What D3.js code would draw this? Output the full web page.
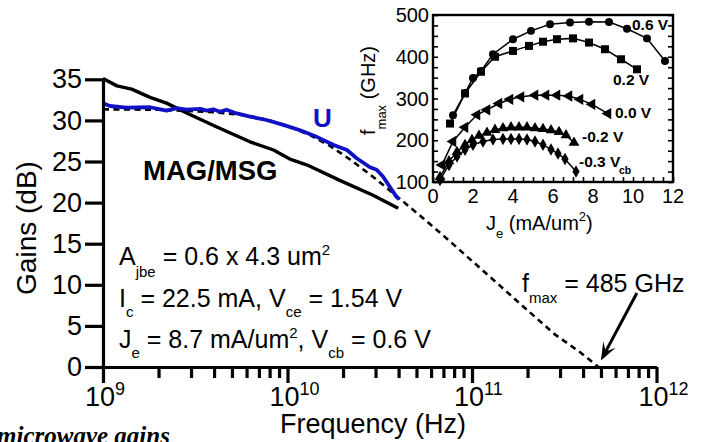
<!DOCTYPE html>
<html><head><meta charset="utf-8">
<script src="https://cdn.jsdelivr.net/npm/d3@7"></script>
<style>
body{margin:0;background:#fff;}
svg{display:block;font-family:"Liberation Sans",Arial,sans-serif;}
</style></head><body>
<svg id="chart" width="707" height="442"></svg>
<script>
// ---------- main chart data (frequency in GHz, gain in dB) ----------
const magFreq = [1.0,1.19,1.43,1.80,2.21,2.84,4.14,6.26,8.40,10.3,12.7,19.2,29.1,39.8];
const magGain = [35.1,34.2,33.8,32.8,32.1,30.9,29.2,27.4,26.4,25.3,24.6,22.7,20.9,19.3];
const uFreq = [1.0,1.09,1.34,1.80,2.21,2.51,2.84,3.36,3.65,3.96,4.30,4.67,5.31,6.26,7.70,9.49,11.7,14.4,17.8,21.0,23.7,28.0,30.4,33.0,35.9,39.0,40.3];
const uGain = [32.1,31.75,31.55,31.6,31.2,31.5,31.3,31.4,31.2,31.35,31.05,31.3,30.85,30.45,30.05,29.45,28.8,28.0,27.0,26.4,25.4,24.3,24.0,23.15,21.9,20.7,20.4];
const fitFreq = [1,2,4,6,8,10,13,17,22,30,40,55,75,100,140,200,280,380,485];
const fitGain = [31.35,31.3,31.0,30.6,30.0,29.3,28.3,26.9,25.2,22.9,20.6,18.0,15.4,12.9,10.0,6.9,4.0,1.9,0];
const yTicks = [0,5,10,15,20,25,30,35];
const xDecades = [1e9,1e10,1e11,1e12];
const xDecadeExp = ["9","10","11","12"];
// arrow annotation: tail and tip in data units (GHz, dB)
const arrowTail = [783, 9.0];
const arrowTip = [500, 0.8];

// ---------- inset data (Je in mA/um^2, fmax in GHz) ----------
const je06 = [1.0,1.6,2.0,2.4,3.0,4.0,4.9,5.85,6.85,7.8,8.8,9.7,10.7,11.6];
const fm06 = [260,313,349,366,406,442,462,478,482,484,483,467,444,390];
const je02 = [0.85,1.6,2.4,3.1,4.0,4.8,5.5,6.2,7.0,7.8,8.6,9.4,10.2];
const fm02 = [240,312,364,400,414,426,436,442,444,434,418,394,370];
const je00 = [0.45,1.0,1.6,2.2,2.7,3.3,3.85,4.4,5.1,5.65,6.2,6.8,7.35,7.95,8.75];
const fm00 = [141,197,231,261,273,288,298,304,308,308,308,306,298,286,264];
const jeM02 = [0.35,0.8,1.2,1.6,1.95,2.3,2.7,3.1,3.5,3.9,4.3,4.7,5.1,5.5,5.9,6.3,6.65,7.05];
const fmM02 = [112,150,172,189,201,211,218,225,229,231,231,231,229,227,224,220,212,194];
const jeM03 = [0.35,0.8,1.2,1.6,2.0,2.5,3.0,3.5,3.9,4.3,4.7,5.1,5.5,5.9,6.25,6.6,7.15];
const fmM03 = [105,141,161,177,189,197,202,203,203,203,202,197,189,178,168,155,125];
const insetXTicks = [0,2,4,6,8,10,12];
const insetYTicks = [100,200,300,400,500];

const FONT = '"Liberation Sans", Arial, sans-serif';
const BLUE = "#1010c4";
const svg = d3.select("#chart");

// ---------- main scales ----------
const x = d3.scaleLog().domain([1e9,1e12]).range([103,656.5]);
const y = d3.scaleLinear().domain([0,35]).range([367,79.3]);

const zip = (fs, gs) => fs.map((f,i)=>({f:f*1e9, g:gs[i]}));
const line = d3.line().x(d=>x(d.f)).y(d=>y(d.g));

// dashed fit line
svg.append("path").datum(zip(fitFreq,fitGain))
  .attr("d",line).attr("fill","none").attr("stroke","#000")
  .attr("stroke-width",2.6).attr("stroke-dasharray","6,4.5");
// MAG/MSG
svg.append("path").datum(zip(magFreq,magGain))
  .attr("d",line).attr("fill","none").attr("stroke","#000")
  .attr("stroke-width",3.4).attr("stroke-linejoin","round");
// U
svg.append("path").datum(zip(uFreq,uGain))
  .attr("d",line).attr("fill","none").attr("stroke",BLUE)
  .attr("stroke-width",3.8).attr("stroke-linejoin","round");

// ---------- axes ----------
const yAxis = d3.axisLeft(y).tickValues(yTicks).tickSize(18).tickSizeOuter(0).tickPadding(3);
const gy = svg.append("g").attr("transform","translate(103,0)").call(yAxis);
gy.attr("font-size",null).attr("font-family",null);
gy.select(".domain").attr("stroke-width",3.2);
gy.selectAll(".tick line").attr("stroke-width",3.2);
gy.selectAll(".tick text").attr("font-size",27).attr("font-family",FONT).attr("fill","#000");

const xMinor = [];
for (let e=9;e<12;e++) for (let m=1;m<10;m++) xMinor.push(m*Math.pow(10,e));
xMinor.push(1e12);
const xAxis = d3.axisBottom(x).tickValues(xMinor).tickSize(11).tickSizeOuter(0).tickFormat("");
const gx = svg.append("g").attr("transform","translate(0,367)").call(xAxis);
gx.select(".domain").attr("stroke-width",3.2);
gx.selectAll(".tick line").attr("stroke-width",3.2)
  .attr("y2", d => xDecades.some(v=>Math.abs(v-d)/v<1e-6) ? 16 : 11);

const xl = svg.append("g").selectAll("text").data(xDecades).join("text")
  .attr("x", d=>x(d)-18).attr("y",406).attr("font-family",FONT).attr("font-size",27);
xl.append("tspan").text("10");
xl.append("tspan").attr("font-size",18).attr("dy",-11).text((d,i)=>xDecadeExp[i]);

// axis titles
svg.append("text").attr("transform","translate(36,228) rotate(-90)")
  .attr("text-anchor","middle").attr("font-family",FONT).attr("font-size",28).text("Gains (dB)");
svg.append("text").attr("x",373).attr("y",433)
  .attr("text-anchor","middle").attr("font-family",FONT).attr("font-size",27).text("Frequency (Hz)");

// caption fragment (cut at the bottom edge, as in the source)
svg.append("text").attr("x",-3).attr("y",444)
  .attr("font-family",'"Liberation Serif", "Times New Roman", serif')
  .attr("font-weight","bold").attr("font-style","italic").attr("font-size",25)
  .text("microwave gains");

// labels
svg.append("text").attr("x",143).attr("y",180).attr("font-family",FONT)
  .attr("font-weight","bold").attr("font-size",27.5).text("MAG/MSG");
svg.append("text").attr("x",313).attr("y",127).attr("font-family",FONT)
  .attr("font-weight","bold").attr("font-size",26).attr("fill",BLUE).text("U");

// annotation lines with sub/superscripts
function rich(xp, yp, parts, size){
  const t = svg.append("text").attr("x",xp).attr("y",yp).attr("font-family",FONT).attr("font-size",size);
  parts.forEach(p=>{
    const s = t.append("tspan").text(p.t);
    if (p.small) s.attr("font-size",size*0.6);
    if (p.dy) s.attr("dy",p.dy);
  });
  return t;
}
rich(119,265,[{t:"A"},{t:"jbe",small:1,dy:12},{t:" = 0.6 x 4.3 um",dy:-12},{t:"2",small:1,dy:-10}],25);
rich(119,307,[{t:"I"},{t:"c",small:1,dy:10},{t:" = 22.5 mA, V",dy:-10},{t:"ce",small:1,dy:10},{t:" = 1.54 V",dy:-10}],25);
rich(119,348,[{t:"J"},{t:"e",small:1,dy:10},{t:" = 8.7 mA/um",dy:-10},{t:"2",small:1,dy:-10},{t:", V",dy:10},{t:"cb",small:1,dy:10},{t:" = 0.6 V",dy:-10}],25);
rich(522,292,[{t:"f"},{t:"max",small:1,dy:11},{t:" = 485 GHz",dy:-11}],25);

// arrow
{
  const x1=x(arrowTail[0]*1e9), y1=y(arrowTail[1]), x2=x(arrowTip[0]*1e9), y2=y(arrowTip[1]);
  const dx=x2-x1, dy=y2-y1, L=Math.hypot(dx,dy), ux=dx/L, uy=dy/L, px=-uy, py=ux;
  const hl=18, hw=7, notch=8;
  svg.append("line").attr("x1",x1).attr("y1",y1).attr("x2",x2-ux*notch).attr("y2",y2-uy*notch)
    .attr("stroke","#000").attr("stroke-width",3);
  const bx=x2-ux*hl, by=y2-uy*hl;
  svg.append("path").attr("d",`M${x2},${y2}L${bx+px*hw},${by+py*hw}L${x2-ux*(hl-notch)},${y2-uy*(hl-notch)}L${bx-px*hw},${by-py*hw}Z`)
    .attr("fill","#000");
}

// ---------- inset ----------
const xi = d3.scaleLinear().domain([0,12]).range([433,673]);
const yi = d3.scaleLinear().domain([100,500]).range([182,15]);
const inset = svg.append("g");
inset.append("rect").attr("x",433).attr("y",15).attr("width",240).attr("height",167)
  .attr("fill","#fff").attr("stroke","none");

const yMinorIn = d3.range(100,501,25);
const xMinorIn = d3.range(0,12.01,0.5);
const styleAx = g => { g.select(".domain").remove(); g.selectAll(".tick line").attr("stroke-width",1.6); };
inset.append("g").attr("transform","translate(433,0)")
  .call(d3.axisLeft(yi).tickValues(yMinorIn).tickSize(-5).tickFormat("")).call(styleAx);
inset.append("g").attr("transform","translate(673,0)")
  .call(d3.axisRight(yi).tickValues(yMinorIn).tickSize(-5).tickFormat("")).call(styleAx);
inset.append("g").attr("transform","translate(0,182)")
  .call(d3.axisBottom(xi).tickValues(xMinorIn).tickSize(-5).tickFormat("")).call(styleAx);
inset.append("rect").attr("x",433).attr("y",15).attr("width",240).attr("height",167)
  .attr("fill","none").attr("stroke","#000").attr("stroke-width",2.4);

inset.append("g").selectAll("text").data(insetYTicks).join("text")
  .attr("x",429).attr("y",d=>yi(d)+7).attr("text-anchor","end")
  .attr("font-family",FONT).attr("font-size",20).text(d=>d);
inset.append("g").selectAll("text").data(insetXTicks).join("text")
  .attr("x",d=>xi(d)).attr("y",203).attr("text-anchor","middle")
  .attr("font-family",FONT).attr("font-size",20).text(d=>d);

// inset axis titles
{
  const t = inset.append("text").attr("x",486).attr("y",230).attr("font-family",FONT).attr("font-size",20);
  t.append("tspan").text("J");
  t.append("tspan").attr("font-size",13).attr("dy",8).text("e");
  t.append("tspan").attr("dy",-8).text(" (mA/um");
  t.append("tspan").attr("font-size",13).attr("dy",-9).text("2");
  t.append("tspan").attr("dy",9).text(")");
  const t2 = inset.append("text").attr("transform","translate(375,135) rotate(-90)")
    .attr("font-family",FONT).attr("font-size",20);
  t2.append("tspan").text("f");
  t2.append("tspan").attr("font-size",13).attr("dy",11).text("max");
  t2.append("tspan").attr("dy",-11).text(" (GHz)");
}

const series = [
  {je:je06, fm:fm06, sym:d3.symbolCircle, size:50, rot:0},
  {je:je02, fm:fm02, sym:d3.symbolSquare, size:64, rot:0},
  {je:je00, fm:fm00, sym:d3.symbolTriangle, size:55, rot:30},
  {je:jeM02, fm:fmM02, sym:d3.symbolTriangle, size:50, rot:0},
  {je:jeM03, fm:fmM03, sym:d3.symbolDiamond, size:45, rot:0}
];
const lineIn = d3.line().x(d=>xi(d[0])).y(d=>yi(d[1]));
series.forEach(s=>{
  const pts = s.je.map((v,i)=>[v,s.fm[i]]);
  inset.append("path").datum(pts).attr("d",lineIn).attr("fill","none")
    .attr("stroke","#000").attr("stroke-width",1.5);
  inset.append("g").selectAll("path").data(pts).join("path")
    .attr("transform",d=>`translate(${xi(d[0])},${yi(d[1])}) rotate(${s.rot})`)
    .attr("d",d3.symbol(s.sym,s.size)).attr("fill","#000");
});

// inset series labels
const insetLabels = [
  {t:"0.6 V", x:632, y:30},
  {t:"0.2 V", x:613, y:85},
  {t:"0.0 V", x:615, y:118},
  {t:"-0.2 V", x:582, y:142},
  {t:"-0.3 V", x:579, y:167}
];
insetLabels.forEach(l=>{
  inset.append("text").attr("x",l.x).attr("y",l.y).attr("font-family",FONT)
    .attr("font-weight","bold").attr("font-size",15.5).text(l.t);
});
inset.append("text").attr("x",619).attr("y",174).attr("font-family",FONT)
  .attr("font-weight","bold").attr("font-size",10.5).text("cb");
</script>
</body></html>
